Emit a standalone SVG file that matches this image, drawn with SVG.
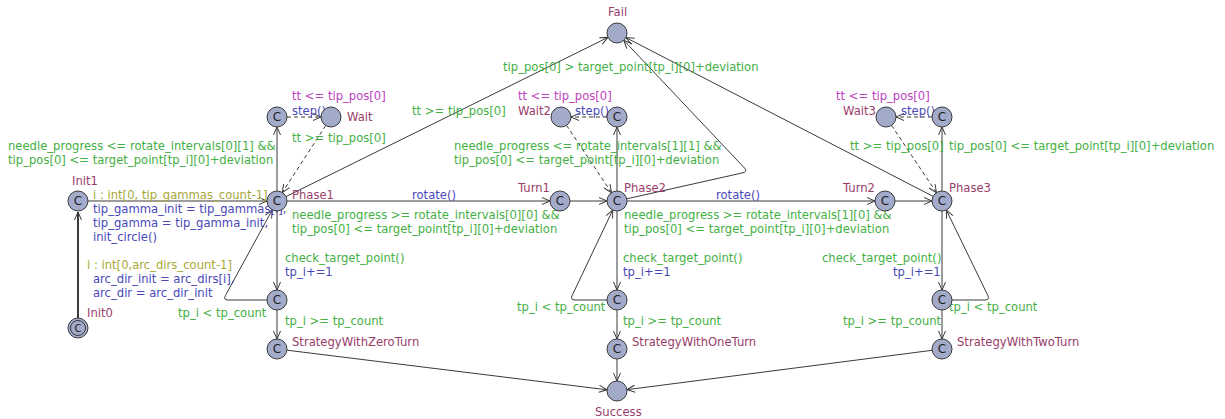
<svg xmlns="http://www.w3.org/2000/svg" width="1225" height="419" viewBox="0 0 1225 419">
<style>
text{font-family:"DejaVu Sans","Liberation Sans",sans-serif;font-size:11.6px}
.loc{fill:#a3abcb;stroke:#3a3a3a;stroke-width:1}
.c{font-size:12px;fill:#222;text-anchor:middle}
.n{fill:#993d6b}
.g{fill:#44b044}
.u{fill:#4848b8}
.s{fill:#a8a838}
.i{fill:#c040c0}
.e{fill:none;stroke:#3a3a3a;stroke-width:1;marker-end:url(#a)}
.d{stroke-dasharray:4,3}
</style>
<defs>
<marker id="a" markerWidth="12" markerHeight="10" refX="9" refY="4" orient="auto" markerUnits="userSpaceOnUse">
<path d="M1,0.5 L9,4 L1,7.5" fill="none" stroke="#3a3a3a" stroke-width="1"/>
</marker>
</defs>
<rect width="1225" height="419" fill="#fff"/>

<g id="connectors">
<path class="e" d="M78,318 L78,212" style="stroke-width:2"/>
<path class="e" d="M88,201 L267,201"/>
<path class="e" d="M277,191 L277,127"/>
<path class="e d" d="M287,117 L321,117"/>
<path class="e d" d="M325.7,125.5 L282.3,192.5"/>
<path class="e" d="M286,196.6 L608,37.4"/>
<path class="e" d="M287,201 L550,201"/>
<path class="e" d="M570,201 L607,201"/>
<path class="e" d="M277,211 L277,290"/>
<path class="e" d="M267,300 L228,300 Q223,300 225.4,295.6 L272.3,209.8"/>
<path class="e" d="M277,310 L277,339"/>
<path class="e" d="M286.9,350.2 L607.1,389.8"/>

<path class="e" d="M617,191 L617,127"/>
<path class="e d" d="M607,117 L571,117"/>
<path class="e d" d="M566.5,125.3 L611.5,192.7"/>
<path class="e" d="M626.8,198.8 L742,173 Q748,172 744.5,168 L623.8,40.3"/>
<path class="e" d="M627,201 L875,201"/>
<path class="e" d="M895,201 L932,201"/>
<path class="e" d="M617,211 L617,290"/>
<path class="e" d="M607,300 L575,300 Q570,300 572.2,295.4 L612.8,209.9"/>
<path class="e" d="M617,310 L617,339"/>
<path class="e" d="M617,359 L617,381"/>

<path class="e" d="M942,191 L942,127"/>
<path class="e d" d="M932,117 L896,117"/>
<path class="e d" d="M891.5,125.3 L936.5,192.7"/>
<path class="e" d="M933.1,196.4 L625.9,37.6"/>
<path class="e" d="M942,211 L942,290"/>
<path class="e" d="M952,300 L985,300 Q990,300 987.8,295.4 L946.3,210"/>
<path class="e" d="M942,310 L942,339"/>
<path class="e" d="M932.1,350.3 L626.9,389.7"/>

<text class="g" x="8" y="150">needle_progress &lt;= rotate_intervals[0][1] &amp;&amp;</text>
<text class="g" x="8" y="164">tip_pos[0] &lt;= target_point[tp_i][0]+deviation</text>
<text class="s" x="93" y="199">i : int[0, tip_gammas_count-1]</text>
<text class="u" x="93" y="213">tip_gamma_init = tip_gammas[i],</text>
<text class="u" x="93" y="227">tip_gamma = tip_gamma_init,</text>
<text class="u" x="93" y="241">init_circle()</text>
<text class="s" x="87" y="269">i : int[0,arc_dirs_count-1]</text>
<text class="u" x="93" y="283">arc_dir_init = arc_dirs[i],</text>
<text class="u" x="93" y="297">arc_dir = arc_dir_init</text>
<text class="g" x="178" y="317">tp_i &lt; tp_count</text>
<text class="i" x="292" y="100">tt &lt;= tip_pos[0]</text>
<text class="u" x="292" y="115">step()</text>
<text class="g" x="292" y="142">tt &gt;= tip_pos[0]</text>
<text class="g" x="412" y="115">tt &gt;= tip_pos[0]</text>
<text class="u" x="412" y="199">rotate()</text>
<text class="g" x="292" y="219">needle_progress &gt;= rotate_intervals[0][0] &amp;&amp;</text>
<text class="g" x="292" y="233">tip_pos[0] &lt;= target_point[tp_i][0]+deviation</text>
<text class="g" x="285" y="262">check_target_point()</text>
<text class="u" x="285" y="276">tp_i+=1</text>
<text class="g" x="285" y="325">tp_i &gt;= tp_count</text>

<text class="g" x="503" y="71">tip_pos[0] &gt; target_point[tp_i][0]+deviation</text>
<text class="i" x="518" y="100">tt &lt;= tip_pos[0]</text>
<text class="u" x="575" y="115">step()</text>
<text class="g" x="454" y="150">needle_progress &lt;= rotate_intervals[1][1] &amp;&amp;</text>
<text class="g" x="454" y="164">tip_pos[0] &lt;= target_point[tp_i][0]+deviation</text>
<text class="u" x="716" y="199">rotate()</text>
<text class="g" x="624" y="219">needle_progress &gt;= rotate_intervals[1][0] &amp;&amp;</text>
<text class="g" x="624" y="233">tip_pos[0] &lt;= target_point[tp_i][0]+deviation</text>
<text class="g" x="623" y="262">check_target_point()</text>
<text class="u" x="623" y="276">tp_i+=1</text>
<text class="g" x="517" y="311">tp_i &lt; tp_count</text>
<text class="g" x="623" y="325">tp_i &gt;= tp_count</text>

<text class="i" x="836" y="100">tt &lt;= tip_pos[0]</text>
<text class="u" x="901" y="115">step()</text>
<text class="g" x="850" y="150">tt &gt;= tip_pos[0]</text>
<text class="g" x="949" y="150">tip_pos[0] &lt;= target_point[tp_i][0]+deviation</text>
<text class="g" x="822" y="262">check_target_point()</text>
<text class="u" x="893" y="276">tp_i+=1</text>
<text class="g" x="949" y="311">tp_i &lt; tp_count</text>
<text class="g" x="843" y="325">tp_i &gt;= tp_count</text>
</g>

<g id="Init0"><circle class="loc" cx="78" cy="328" r="10"/><circle cx="78" cy="328" r="7.5" fill="none" stroke="#3a3a3a"/><text class="c" x="78" y="332" style="font-size:10px">C</text><text class="n" x="87" y="317">Init0</text></g>
<g id="Init1"><circle class="loc" cx="78" cy="201" r="10"/><text class="c" x="78" y="205">C</text><text class="n" x="72" y="185">Init1</text></g>
<g id="Phase1"><circle class="loc" cx="277" cy="201" r="10"/><text class="c" x="277" y="205">C</text><text class="n" x="292" y="199">Phase1</text></g>
<g id="Phase1Step"><circle class="loc" cx="277" cy="117" r="10"/><text class="c" x="277" y="121">C</text></g>
<g id="Wait"><circle class="loc" cx="331" cy="117" r="10"/><text class="n" x="347" y="121">Wait</text></g>
<g id="Phase1Check"><circle class="loc" cx="277" cy="300" r="10"/><text class="c" x="277" y="304">C</text></g>
<g id="StrategyWithZeroTurn"><circle class="loc" cx="277" cy="349" r="10"/><text class="c" x="277" y="353">C</text><text class="n" x="292" y="346">StrategyWithZeroTurn</text></g>
<g id="Turn1"><circle class="loc" cx="560" cy="201" r="10"/><text class="c" x="560" y="205">C</text><text class="n" x="518" y="192">Turn1</text></g>
<g id="Phase2"><circle class="loc" cx="617" cy="201" r="10"/><text class="c" x="617" y="205">C</text><text class="n" x="624" y="192">Phase2</text></g>
<g id="Phase2Step"><circle class="loc" cx="617" cy="117" r="10"/><text class="c" x="617" y="121">C</text></g>
<g id="Wait2"><circle class="loc" cx="561" cy="117" r="10"/><text class="n" x="518" y="115">Wait2</text></g>
<g id="Phase2Check"><circle class="loc" cx="617" cy="300" r="10"/><text class="c" x="617" y="304">C</text></g>
<g id="StrategyWithOneTurn"><circle class="loc" cx="617" cy="349" r="10"/><text class="c" x="617" y="353">C</text><text class="n" x="632" y="346">StrategyWithOneTurn</text></g>
<g id="Success"><circle class="loc" cx="617" cy="391" r="10"/><text class="n" x="595" y="416">Success</text></g>
<g id="Fail"><circle class="loc" cx="617" cy="33" r="10"/><text class="n" x="608" y="16">Fail</text></g>
<g id="Turn2"><circle class="loc" cx="885" cy="201" r="10"/><text class="c" x="885" y="205">C</text><text class="n" x="843" y="192">Turn2</text></g>
<g id="Phase3"><circle class="loc" cx="942" cy="201" r="10"/><text class="c" x="942" y="205">C</text><text class="n" x="949" y="192">Phase3</text></g>
<g id="Phase3Step"><circle class="loc" cx="942" cy="117" r="10"/><text class="c" x="942" y="121">C</text></g>
<g id="Wait3"><circle class="loc" cx="886" cy="117" r="10"/><text class="n" x="843" y="115">Wait3</text></g>
<g id="Phase3Check"><circle class="loc" cx="942" cy="300" r="10"/><text class="c" x="942" y="304">C</text></g>
<g id="StrategyWithTwoTurn"><circle class="loc" cx="942" cy="349" r="10"/><text class="c" x="942" y="353">C</text><text class="n" x="957" y="346">StrategyWithTwoTurn</text></g>
</svg>
